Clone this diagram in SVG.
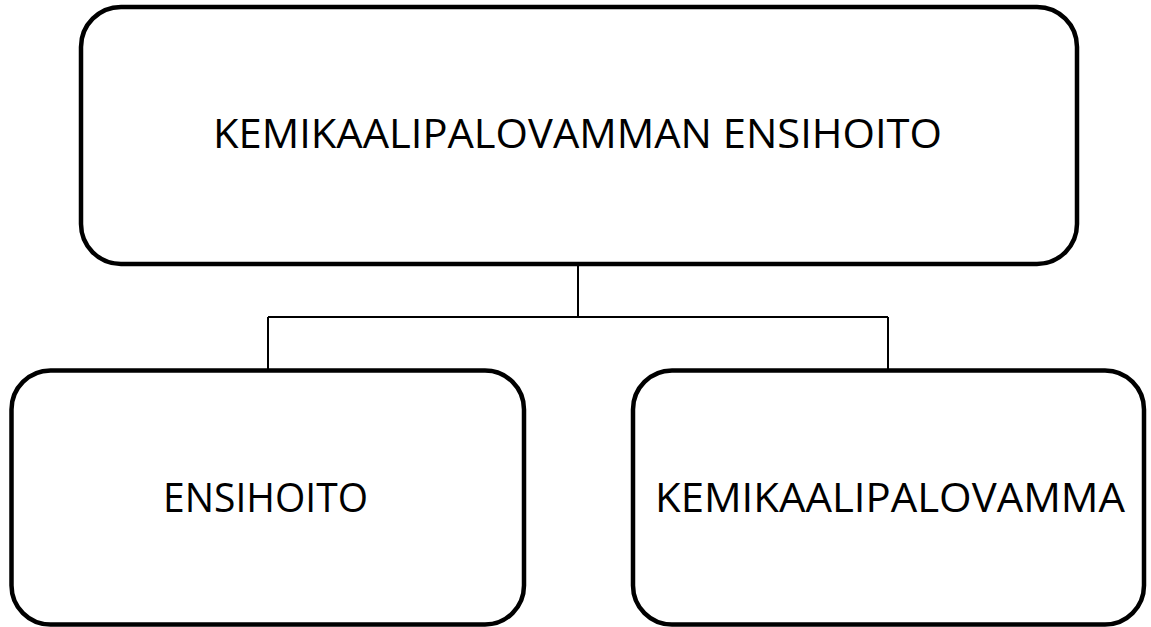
<svg xmlns="http://www.w3.org/2000/svg" width="1151" height="627" viewBox="0 0 1151 627">
<style>
.box{fill:#fff;stroke:#000;stroke-width:4.5}
.lbl{font-family:"Open Sans","Liberation Sans",sans-serif;font-size:41px;fill:#000}
.conn{fill:none;stroke:#000;stroke-width:2}
</style>
<rect width="1151" height="627" fill="#fff"/>
<g id="connectors">
<path class="conn" d="M578 264 V317 M268 317 H888 M268 317 V371 M888 317 V371"/>
</g>
<g id="node-top">
<rect class="box" x="81" y="7" width="996" height="257" rx="40" ry="40"/>
<text class="lbl" x="213" y="148" textLength="729" lengthAdjust="spacingAndGlyphs">KEMIKAALIPALOVAMMAN ENSIHOITO</text>
</g>
<g id="node-ensihoito">
<rect class="box" x="11.5" y="370.5" width="512.5" height="254" rx="39" ry="39"/>
<text class="lbl" x="163" y="512" textLength="205" lengthAdjust="spacingAndGlyphs">ENSIHOITO</text>
</g>
<g id="node-kemikaalipalovamma">
<rect class="box" x="633" y="370.5" width="511" height="254" rx="39" ry="39"/>
<text class="lbl" x="655" y="512" textLength="470" lengthAdjust="spacingAndGlyphs">KEMIKAALIPALOVAMMA</text>
</g>
</svg>
